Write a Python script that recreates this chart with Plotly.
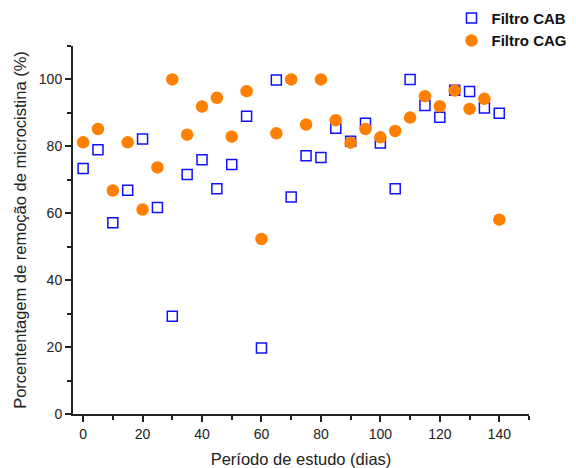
import plotly.graph_objects as go

days = [0, 5, 10, 15, 20, 25, 30, 35, 40, 45, 50, 55, 60, 65, 70, 75, 80, 85, 90, 95,
        100, 105, 110, 115, 120, 125, 130, 135, 140]
cab = [73.4, 79.0, 57.2, 66.9, 82.2, 61.7, 29.2, 71.6, 76.0, 67.3, 74.6, 89.0, 19.7, 99.8,
       64.9, 77.2, 76.7, 85.4, 81.5, 86.9, 81.0, 67.3, 100.0, 92.2, 88.7, 96.8, 96.4, 91.5, 89.9]
cag = [81.2, 85.2, 66.8, 81.2, 61.1, 73.7, 100.0, 83.5, 91.9, 94.5, 82.9, 96.5, 52.3, 83.9,
       100.0, 86.5, 100.0, 87.8, 81.1, 85.2, 82.7, 84.6, 88.6, 95.0, 92.0, 96.7, 91.2, 94.2, 58.1]

font = "Liberation Sans, Arial, sans-serif"

fig = go.Figure()
fig.add_trace(go.Scatter(x=days, y=cab, mode="markers", name="<b>Filtro CAB</b>",
                         marker=dict(symbol="square-open", size=10, color="#1010FF",
                                     line=dict(width=1.5, color="#1010FF"))))
fig.add_trace(go.Scatter(x=days, y=cag, mode="markers", name="<b>Filtro CAG</b>",
                         marker=dict(symbol="circle", size=12.5, color="#FF8000",
                                     line=dict(width=0))))

axis_common = dict(showline=True, linecolor="#222", linewidth=2, ticks="outside",
                   ticklen=6, tickwidth=1.5, tickcolor="#222", showgrid=False, zeroline=False,
                   automargin=False,
                   tickfont=dict(family=font, size=14, color="#222"),
                   minor=dict(ticks="outside", ticklen=4, tickwidth=1.5, tickcolor="#222", dtick=10))

fig.update_xaxes(range=[-3.4, 150], tick0=0, dtick=20,
                 title=dict(text="Período de estudo (dias)", font=dict(family=font, size=16.5, color="#222"),
                            standoff=15),
                 **axis_common)
fig.update_yaxes(range=[0, 110], tick0=0, dtick=20,
                 title=dict(text="Porcententagem de remoção de microcistina (%)",
                            font=dict(family=font, size=16.5, color="#222"), standoff=8),
                 **axis_common)

fig.update_layout(width=576, height=468, plot_bgcolor="white", paper_bgcolor="white",
                  margin=dict(l=73, r=47, t=46, b=54, autoexpand=False),
                  legend=dict(x=0.83, y=1.12, xanchor="left", yanchor="top",
                              font=dict(family=font, size=15, color="#111"),
                              bgcolor="rgba(0,0,0,0)", itemwidth=30, tracegroupgap=0))

fig.write_html("out.html")
